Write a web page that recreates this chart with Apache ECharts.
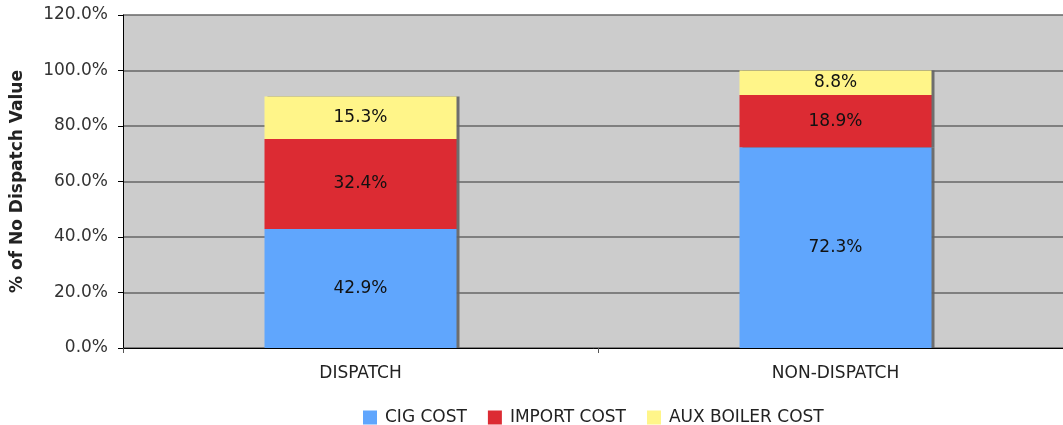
<!DOCTYPE html>
<html><head><meta charset="utf-8">
<script src="https://cdn.jsdelivr.net/npm/echarts@6/dist/echarts.min.js"></script>
<style>html,body{margin:0;padding:0;background:#fff}#c{width:1063px;height:425px}</style>
</head><body><div id="c"></div>
<script>
const categories = ['DISPATCH', 'NON-DISPATCH'];
const cigCost = [42.9, 72.3];
const importCost = [32.4, 18.9];
const auxBoilerCost = [15.3, 8.8];
const seriesNames = ['CIG COST', 'IMPORT COST', 'AUX BOILER COST'];
const colors = ['#60A6FD', '#DC2B33', '#FFF589'];

const chart = echarts.init(document.getElementById('c'));
const font = 'DejaVu Sans';
const fs = 17;
function mk(name, data, color) {
  return {
    name: name, type: 'bar', stack: 'a', data: data, barWidth: 192,
    itemStyle: { color: color, shadowColor: 'rgba(100,100,100,0.9)', shadowOffsetX: 3, shadowOffsetY: 0, shadowBlur: 0 },
    label: { show: true, position: 'inside', formatter: p => p.value.toFixed(1) + '%', color: '#111', fontFamily: font, fontSize: fs }
  };
}
chart.setOption({
  animation: false,
  grid: { left: 123, top: 15, bottom: 77, width: 950, outerBoundsMode: 'none', containLabel: false, show: true, backgroundColor: '#CCCCCC', borderWidth: 0 },
  legend: {
    top: 404, left: 358, itemWidth: 14, itemHeight: 14, itemGap: 21,
    textStyle: { fontFamily: font, fontSize: fs, color: '#222', padding: [0, 0, 0, 3] },
    data: seriesNames, icon: 'rect'
  },
  xAxis: {
    type: 'category', data: categories,
    axisLine: { lineStyle: { color: '#000', width: 1 } },
    axisTick: { show: true, lineStyle: { color: '#555' }, length: 5 },
    axisLabel: { fontFamily: font, fontSize: fs, color: '#222', margin: 17 }
  },
  yAxis: {
    type: 'value', min: 0, max: 120, interval: 20,
    name: '% of No Dispatch Value', nameLocation: 'middle', nameGap: 97, nameRotate: 90,
    nameTextStyle: { fontFamily: font, fontSize: fs, fontWeight: 'bold', color: '#222' },
    axisLine: { show: true, lineStyle: { color: '#000', width: 1 } },
    axisTick: { show: true, length: 5, lineStyle: { color: '#000' } },
    axisLabel: { fontFamily: font, fontSize: fs, color: '#333', margin: 15, formatter: v => v.toFixed(1) + '%' },
    splitLine: { show: true, lineStyle: { color: '#666', width: 1.5 } }
  },
  series: [mk(seriesNames[0], cigCost, colors[0]), mk(seriesNames[1], importCost, colors[1]), mk(seriesNames[2], auxBoilerCost, colors[2])]
});
</script></body></html>
